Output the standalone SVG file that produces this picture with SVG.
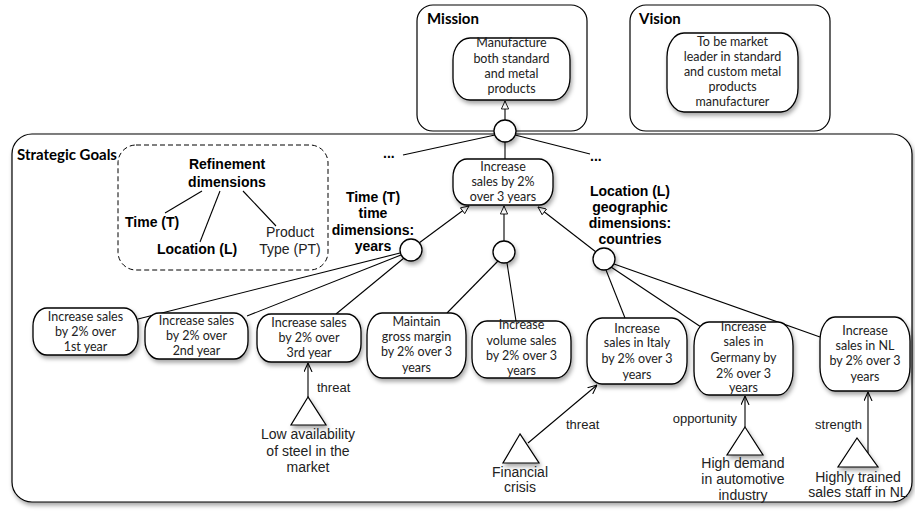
<svg xmlns="http://www.w3.org/2000/svg" width="915" height="514" viewBox="0 0 915 514">
<defs>
<filter id="sh" x="-20%" y="-20%" width="140%" height="150%">
<feDropShadow dx="1.5" dy="3" stdDeviation="2" flood-color="#000" flood-opacity="0.35"/>
</filter>
<marker id="tri" viewBox="0 0 10 10" refX="10" refY="5" markerWidth="9" markerHeight="8" markerUnits="userSpaceOnUse" orient="auto">
<path d="M0,0.5 L10,5 L0,9.5 z" fill="#fff" stroke="#000" stroke-width="1.1"/>
</marker>
<marker id="vee" viewBox="0 0 10 10" refX="10" refY="5" markerWidth="9" markerHeight="9" markerUnits="userSpaceOnUse" orient="auto">
<path d="M0,0.5 L10,5 L0,9.5" fill="none" stroke="#000" stroke-width="1.2"/>
</marker>
</defs>
<style>
.box{fill:#fff;stroke:#000;stroke-width:1.2}
.node{fill:#fff;stroke:#000;stroke-width:1.3;filter:url(#sh)}
.circ{fill:#fff;stroke:#000;stroke-width:1.3;filter:url(#sh)}
.tri{fill:#fff;stroke:#000;stroke-width:1.2;filter:url(#sh)}
.nt{font-family:Lato,"Open Sans",sans-serif;font-size:12.5px;fill:#222;text-anchor:middle}
.ttl{font-family:Lato,"Open Sans",sans-serif;font-size:15px;font-weight:bold;fill:#000}
.lb{font-family:"Liberation Sans",Arial,sans-serif;font-size:14px;font-weight:bold;fill:#000;text-anchor:middle}
.lr{font-family:"Liberation Sans",Arial,sans-serif;font-size:14px;fill:#222;text-anchor:middle}
.ls{font-family:"Liberation Sans",Arial,sans-serif;font-size:13px;fill:#222}
.ln{stroke:#000;stroke-width:1.1;fill:none}
</style>

<g id="strategic-goals">
<rect x="12" y="134" width="900" height="368" rx="20" class="box" filter="url(#sh)"/>
<text x="17" y="160" class="ttl">Strategic Goals</text>
</g>

<g id="mission">
<rect x="417" y="5" width="170" height="126" rx="16" class="box"/>
<text x="427" y="24" class="ttl">Mission</text>
</g>
<g id="vision">
<rect x="630" y="5" width="200" height="126" rx="16" class="box"/>
<text x="639" y="24" class="ttl">Vision</text>
</g>

<g id="refinement-dimensions">
<rect x="118" y="145" width="210" height="125" rx="18" fill="none" stroke="#000" stroke-width="1" stroke-dasharray="5,3"/>
<text x="227" y="169" class="lb">Refinement</text>
<text x="227" y="187" class="lb">dimensions</text>
<text x="125" y="227" class="lb" style="text-anchor:start">Time (T)</text>
<text x="157" y="254" class="lb" style="text-anchor:start">Location (L)</text>
<text x="290" y="237" class="lr">Product</text>
<text x="290" y="254" class="lr">Type (PT)</text>
<line x1="202" y1="191" x2="165" y2="213" class="ln"/>
<line x1="220" y1="191" x2="200" y2="242" class="ln"/>
<line x1="243" y1="191" x2="276" y2="226" class="ln"/>
</g>

<g id="connectors">
<line x1="505" y1="120" x2="505" y2="101" class="ln" marker-end="url(#tri)"/>
<line x1="505" y1="142" x2="505" y2="159" class="ln"/>
<line x1="495" y1="135" x2="403" y2="155" class="ln"/>
<line x1="515" y1="135" x2="590" y2="154" class="ln"/>
<line x1="419" y1="243" x2="469" y2="206" class="ln" marker-end="url(#tri)"/>
<line x1="504" y1="241" x2="504" y2="206" class="ln" marker-end="url(#tri)"/>
<line x1="596" y1="252" x2="538" y2="207" class="ln" marker-end="url(#tri)"/>
<line x1="400" y1="253" x2="138" y2="319" class="ln"/>
<line x1="401" y1="255" x2="247" y2="316" class="ln"/>
<line x1="404" y1="258" x2="336" y2="314" class="ln"/>
<line x1="498" y1="261" x2="447" y2="313" class="ln"/>
<line x1="507" y1="263" x2="516" y2="321" class="ln"/>
<line x1="606" y1="270" x2="625" y2="318" class="ln"/>
<line x1="611" y1="267" x2="701" y2="327" class="ln"/>
<line x1="614" y1="264" x2="820" y2="337" class="ln"/>
<line x1="308" y1="397" x2="308" y2="363" class="ln" marker-end="url(#vee)"/>
<line x1="528" y1="443" x2="597" y2="385" class="ln" marker-end="url(#vee)"/>
<line x1="745" y1="427" x2="745" y2="396" class="ln" marker-end="url(#vee)"/>
<line x1="868" y1="453" x2="868" y2="392" class="ln" marker-end="url(#vee)"/>
<text x="317" y="392" class="ls">threat</text>
<text x="566" y="429" class="ls">threat</text>
<text x="737" y="423" class="ls" text-anchor="end">opportunity</text>
<text x="862" y="429" class="ls" text-anchor="end">strength</text>
<text x="383" y="158" class="lb" style="text-anchor:start">...</text>
<text x="590" y="161" class="lb" style="text-anchor:start">...</text>
</g>

<g id="mission-goal">
<rect x="453" y="38" width="117" height="62" rx="17" ry="22" class="node"/>
<text class="nt"><tspan x="511.5" y="47">Manufacture</tspan><tspan x="511.5" y="63">both standard</tspan><tspan x="511.5" y="78">and metal</tspan><tspan x="511.5" y="93">products</tspan></text>
</g>
<g id="vision-goal">
<rect x="667" y="33" width="131" height="79" rx="17" ry="24" class="node"/>
<text class="nt"><tspan x="732.5" y="46">To be market</tspan><tspan x="732.5" y="61">leader in standard</tspan><tspan x="732.5" y="76">and custom metal</tspan><tspan x="732.5" y="91">products</tspan><tspan x="732.5" y="106">manufacturer</tspan></text>
</g>

<g id="and-top"><circle cx="505" cy="131" r="11" class="circ"/></g>
<g id="and-time"><circle cx="411" cy="250" r="11" class="circ"/></g>
<g id="and-mid"><circle cx="504" cy="252" r="11" class="circ"/></g>
<g id="and-loc"><circle cx="604" cy="259" r="11" class="circ"/></g>

<g id="goal-main">
<rect x="453" y="159" width="100" height="46" rx="14" ry="18" class="node"/>
<text class="nt"><tspan x="503" y="171">Increase</tspan><tspan x="503" y="186">sales by 2%</tspan><tspan x="503" y="201">over 3 years</tspan></text>
</g>

<g id="label-time">
<text class="lb"><tspan x="373" y="202">Time (T)</tspan><tspan x="373" y="218">time</tspan><tspan x="373" y="235">dimensions:</tspan><tspan x="373" y="251">years</tspan></text>
</g>
<g id="label-location">
<text class="lb"><tspan x="630" y="196">Location (L)</tspan><tspan x="630" y="212">geographic</tspan><tspan x="630" y="228">dimensions:</tspan><tspan x="630" y="244">countries</tspan></text>
</g>

<g id="goal-y1">
<rect x="33" y="308" width="105" height="47" rx="14" ry="18" class="node"/>
<text class="nt"><tspan x="85.5" y="321">Increase sales</tspan><tspan x="85.5" y="336">by 2% over</tspan><tspan x="85.5" y="351">1st year</tspan></text>
</g>
<g id="goal-y2">
<rect x="145" y="313" width="103" height="46" rx="14" ry="18" class="node"/>
<text class="nt"><tspan x="196.5" y="325">Increase sales</tspan><tspan x="196.5" y="340">by 2% over</tspan><tspan x="196.5" y="355">2nd year</tspan></text>
</g>
<g id="goal-y3">
<rect x="257" y="314" width="104" height="48" rx="14" ry="18" class="node"/>
<text class="nt"><tspan x="309" y="327">Increase sales</tspan><tspan x="309" y="342">by 2% over</tspan><tspan x="309" y="357">3rd year</tspan></text>
</g>
<g id="goal-margin">
<rect x="367" y="313" width="99" height="65" rx="15" ry="22" class="node"/>
<text class="nt"><tspan x="416.5" y="326">Maintain</tspan><tspan x="416.5" y="341">gross margin</tspan><tspan x="416.5" y="356">by 2% over 3</tspan><tspan x="416.5" y="372">years</tspan></text>
</g>
<g id="goal-volume">
<rect x="472" y="321" width="99" height="57" rx="15" ry="20" class="node"/>
<text class="nt"><tspan x="521.5" y="329">Increase</tspan><tspan x="521.5" y="345">volume sales</tspan><tspan x="521.5" y="360">by 2% over 3</tspan><tspan x="521.5" y="375">years</tspan></text>
</g>
<g id="goal-italy">
<rect x="587" y="318" width="100" height="66" rx="15" ry="22" class="node"/>
<text class="nt"><tspan x="637" y="333">Increase</tspan><tspan x="637" y="347">sales in Italy</tspan><tspan x="637" y="363">by 2% over 3</tspan><tspan x="637" y="379">years</tspan></text>
</g>
<g id="goal-germany">
<rect x="694" y="322" width="99" height="73" rx="15" ry="24" class="node"/>
<text class="nt"><tspan x="743.5" y="331">Increase</tspan><tspan x="743.5" y="346">sales in</tspan><tspan x="743.5" y="362">Germany by</tspan><tspan x="743.5" y="378">2% over 3</tspan><tspan x="743.5" y="392">years</tspan></text>
</g>
<g id="goal-nl">
<rect x="820" y="317" width="90" height="74" rx="15" ry="24" class="node"/>
<text class="nt"><tspan x="865" y="335">Increase</tspan><tspan x="865" y="350">sales in NL</tspan><tspan x="865" y="365">by 2% over 3</tspan><tspan x="865" y="381">years</tspan></text>
</g>

<g id="factor-steel">
<polygon points="308,397 291,425 326,425" class="tri"/>
<text class="lr"><tspan x="308" y="439">Low availability</tspan><tspan x="308" y="456">of steel in the</tspan><tspan x="308" y="472">market</tspan></text>
</g>
<g id="factor-crisis">
<polygon points="520,434 503,463 539,463" class="tri"/>
<text class="lr"><tspan x="520" y="477">Financial</tspan><tspan x="520" y="492">crisis</tspan></text>
</g>
<g id="factor-demand">
<polygon points="745,427 727,455 763,455" class="tri"/>
<text class="lr"><tspan x="743" y="468">High demand</tspan><tspan x="743" y="484">in automotive</tspan><tspan x="743" y="500">industry</tspan></text>
</g>
<g id="factor-staff">
<polygon points="857,438 838,467 878,467" class="tri"/>
<text class="lr"><tspan x="858" y="482">Highly trained</tspan><tspan x="858" y="497">sales staff in NL</tspan></text>
</g>
</svg>
